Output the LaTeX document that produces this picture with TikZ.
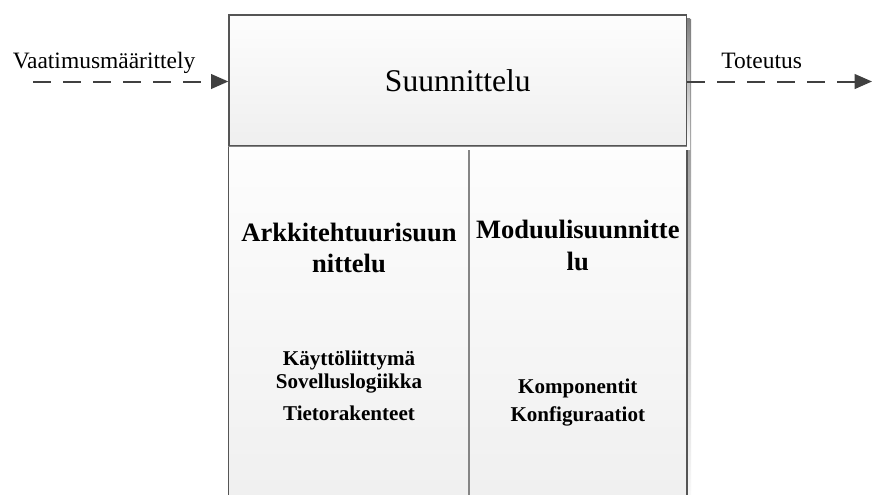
\documentclass[tikz,border=0pt]{standalone}
\usepackage{fontspec}
\setmainfont{Liberation Serif}
\usetikzlibrary{arrows.meta,fit}
\definecolor{edge}{HTML}{555555}
\definecolor{divider}{HTML}{858585}
\definecolor{shade}{HTML}{E2E2E2}
\definecolor{flow}{HTML}{404040}
\definecolor{paneltop}{HTML}{FDFDFD}
\definecolor{panelbot}{HTML}{EFEFEF}
\tikzset{
  panel/.style={inner sep=0pt, top color=paneltop, bottom color=panelbot},
  flowarrow/.style={draw=flow, line width=1.5pt, dash pattern=on 13.5pt off 9pt,
    -{Triangle[length=13pt,width=11pt]}},
  flowlabel/.style={anchor=base, font=\fontsize{17.6}{20}\selectfont},
  heading/.style={anchor=base, font=\fontsize{19.9}{23}\selectfont\bfseries},
  item/.style={anchor=base, font=\fontsize{15.8}{18}\selectfont\bfseries},
}
\begin{document}
\begin{tikzpicture}[x=0.75pt,y=-0.75pt]
\useasboundingbox (0,0) rectangle (875,494);
\clip (0,0) rectangle (875,494);
\fill[white] (0,0) rectangle (875,494);

% drop shadow behind the whole block
\fill[shade] (233,19) rectangle (691,520);

% lower columns
\node[panel, fit={(229,146) (469,520)}] (arch) {};
\node[panel, fit={(469,146) (686.7,520)}] (mod) {};
\draw[edge, line width=1pt] (arch.south west) -- (arch.north west);
\draw[edge, line width=1pt] (mod.south east) -- (mod.north east);
\draw[divider, line width=1.5pt] (arch.north east) -- (arch.south east);

% top box with its shadow
\fill[shade] (232,18) rectangle (690,149.5);
\node[panel, fit={(229,15) (686.7,146)}, draw=edge, line width=1pt] (design) {};
\draw[divider, line width=1.2pt] (design.south west) -- (design.south east);
\node at (design.center) {\fontsize{23.7}{28}\selectfont Suunnittelu};

% incoming and outgoing phases
\coordinate (inStart) at (33,81.5);
\coordinate (outEnd) at (872,81.5);
\draw[flowarrow] (inStart) -- (inStart -| design.west);
\draw[flowarrow] (outEnd -| design.east) -- (outEnd);
\node[flowlabel] (inLabel) at (104,68.3) {Vaatimusmäärittely};
\node[flowlabel, anchor=base west] (outLabel) at (716.7,68.3) {Toteutus};

% architecture column
\node[heading] (archA) at (349,241.7) {Arkkitehtuurisuun};
\node[heading] (archB) at (349,272.7) {nittelu};
\node[item] (ui) at (349,365) {Käyttöliittymä};
\node[item] (logic) at (349,388.3) {Sovelluslogiikka};
\node[item] (data) at (349,420) {Tietorakenteet};

% module column
\node[heading] (modA) at (577.8,238.3) {Moduulisuunnitte};
\node[heading] (modB) at (577.8,270) {lu};
\node[item] (comp) at (577.8,393.3) {Komponentit};
\node[item] (conf) at (577.8,421.7) {Konfiguraatiot};
\end{tikzpicture}
\end{document}
